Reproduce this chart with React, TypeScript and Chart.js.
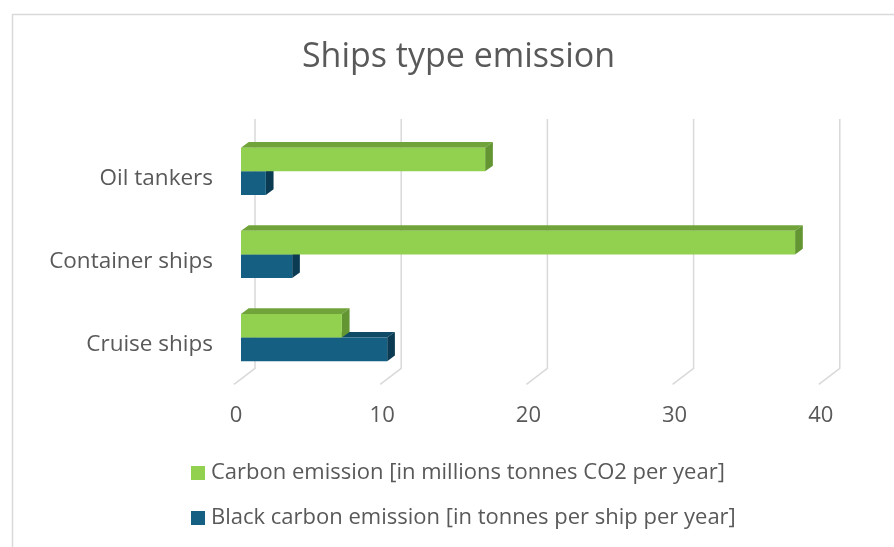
import React, { useEffect, useRef } from "react";
import { Chart, registerables } from "chart.js";

Chart.register(...registerables);

const categories = ["Oil tankers", "Container ships", "Cruise ships"];
const carbonEmission = [16.7, 37.9, 6.9];
const blackCarbonEmission = [1.7, 3.5, 10];
const seriesLabels = [
  "Carbon emission [in millions tonnes CO2 per year]",
  "Black carbon emission [in tonnes per ship per year]",
];
const axisMax = 40;
const axisStep = 10;

const FONT = "'Open Sans', 'Noto Sans', sans-serif";
const TEXT = "#595959";
const GRID = "#d9d9d9";

// face colours per series: front, top, side
const faces = [
  { front: "#92d050", top: "#70a33a", side: "#639532" },
  { front: "#156082", top: "#0f4a66", side: "#0b3b52" },
];

// oblique depth of the floor/back wall and of each bar
const WALL = { dx: 14, dy: -10.7 };
const FLOOR = { dx: -7, dy: 5.3 };
const BAR = { dx: 7.7, dy: -5.6 };

const poly = (ctx: CanvasRenderingContext2D, pts: number[][], fill: string) => {
  ctx.beginPath();
  ctx.moveTo(pts[0][0], pts[0][1]);
  for (let i = 1; i < pts.length; i++) ctx.lineTo(pts[i][0], pts[i][1]);
  ctx.closePath();
  ctx.fillStyle = fill;
  ctx.fill();
};

const depthPlugin = {
  id: "depth",
  beforeDraw(chart: any) {
    const { ctx } = chart;
    ctx.save();
    ctx.fillStyle = "#ffffff";
    ctx.fillRect(0, 0, chart.width, chart.height);
    ctx.strokeStyle = GRID;
    ctx.lineWidth = 1.5;
    ctx.strokeRect(12.5, 14.5, 1000, 1000);
    ctx.restore();
  },
  beforeDatasetsDraw(chart: any) {
    const { ctx, chartArea } = chart;
    const xs = chart.scales.x;
    ctx.save();
    // back wall gridlines bending onto the floor
    ctx.strokeStyle = GRID;
    ctx.lineWidth = 1.5;
    xs.ticks.forEach((t: any) => {
      const px = xs.getPixelForValue(t.value);
      ctx.beginPath();
      ctx.moveTo(px + WALL.dx, chartArea.top + WALL.dy);
      ctx.lineTo(px + WALL.dx, chartArea.bottom + WALL.dy);
      ctx.lineTo(px + FLOOR.dx, chartArea.bottom + FLOOR.dy);
      ctx.stroke();
    });
    // top and side faces of each bar; lower series first
    const metas = [chart.getDatasetMeta(1), chart.getDatasetMeta(0)];
    const faceSets = [faces[1], faces[0]];
    categories.forEach((_, i) => {
      metas.forEach((meta: any, k: number) => {
        const el = meta.data[i];
        if (!el) return;
        const { x, y, base, height } = el.getProps(["x", "y", "base", "height"], true);
        const top = y - height / 2;
        const bottom = y + height / 2;
        const f = faceSets[k];
        poly(ctx, [[base, top], [x, top], [x + BAR.dx, top + BAR.dy], [base + BAR.dx, top + BAR.dy]], f.top);
        poly(ctx, [[x, top], [x, bottom], [x + BAR.dx, bottom + BAR.dy], [x + BAR.dx, top + BAR.dy]], f.side);
      });
    });
    ctx.restore();
  },
  afterDraw(chart: any) {
    const { ctx } = chart;
    ctx.save();
    ctx.fillStyle = TEXT;
    ctx.textAlign = "center";
    ctx.textBaseline = "middle";
    ctx.font = `34px ${FONT}`;
    ctx.fillText("Ships type emission", 458.5, 57);

    // legend, one entry per line
    ctx.textAlign = "left";
    ctx.font = `22px ${FONT}`;
    chart.data.datasets.forEach((ds: any, i: number) => {
      const cy = 473 + i * 45;
      ctx.fillStyle = ds.backgroundColor;
      ctx.fillRect(191, cy - 7, 14, 14);
      ctx.fillStyle = TEXT;
      ctx.fillText(ds.label, 211, cy);
    });
    ctx.restore();
  },
};

export default function App() {
  const ref = useRef<HTMLCanvasElement>(null);

  useEffect(() => {
    if (!ref.current) return;
    const chart = new Chart(ref.current, {
      type: "bar",
      data: {
        labels: categories,
        datasets: [
          {
            label: seriesLabels[0],
            data: carbonEmission,
            backgroundColor: faces[0].front,
            categoryPercentage: 0.568,
            barPercentage: 1,
          },
          {
            label: seriesLabels[1],
            data: blackCarbonEmission,
            backgroundColor: faces[1].front,
            categoryPercentage: 0.568,
            barPercentage: 1,
          },
        ],
      },
      options: {
        indexAxis: "y",
        responsive: false,
        animation: false,
        devicePixelRatio: 1,
        layout: { padding: { left: 0, top: 129.7, right: 68.2, bottom: 97.9 } },
        plugins: {
          legend: { display: false },
          title: { display: false },
          tooltip: { enabled: false },
        },
        scales: {
          x: {
            type: "linear",
            min: 0,
            max: axisMax,
            clip: false,
            grid: { display: false, drawTicks: false },
            border: { display: false },
            ticks: {
              stepSize: axisStep,
              color: TEXT,
              font: { family: FONT, size: 22 },
              padding: 23,
              labelOffset: -5,
            },
            afterFit: (s: any) => {
              s.height = 70;
            },
          },
          y: {
            clip: false,
            grid: { display: false, drawTicks: false },
            border: { display: false },
            ticks: {
              color: TEXT,
              font: { family: FONT, size: 22.5 },
              padding: 28,
              labelOffset: 7,
            },
            afterFit: (s: any) => {
              s.width = 241;
            },
          },
        },
      },
      plugins: [depthPlugin],
    });
    return () => chart.destroy();
  }, []);

  return (
    <div style={{ position: "absolute", left: 0, top: 0, width: 894, height: 547 }}>
      <canvas ref={ref} width={894} height={547} />
    </div>
  );
}
